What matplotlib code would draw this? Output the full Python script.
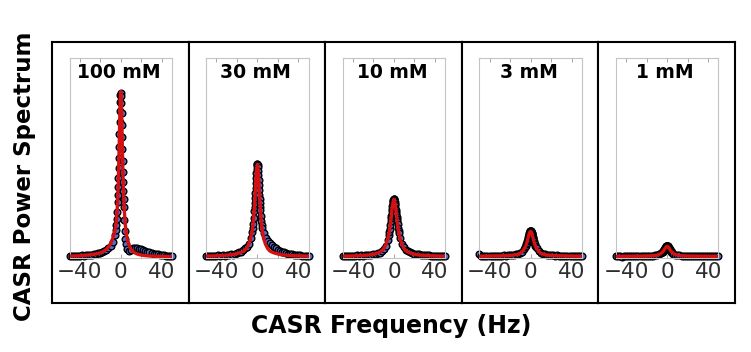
import matplotlib
matplotlib.use("Agg")
import matplotlib.pyplot as plt
from matplotlib.ticker import FixedLocator

# ---- data (power in arbitrary units, 0-100 axis) ----
labels = ["100 mM", "30 mM", "10 mM", "3 mM", "1 mM"]

freqs = [-50, -48, -46, -44, -42, -40, -38, -36, -34, -32, -30, -28, -26, -24,
         -22, -20, -18, -16, -14, -12, -10, -8, -6,
         -5, -4.5, -4, -3.5, -3, -2.75, -2.5, -2.25, -2, -1.75, -1.5, -1.25,
         -1, -0.75, -0.5, -0.25, 0, 0.25, 0.5, 0.75, 1, 1.25, 1.5, 1.75, 2,
         2.25, 2.5, 2.75, 3, 3.5, 4, 4.5, 5,
         6, 8, 10, 12, 14, 16, 18, 20, 22, 24, 26, 28, 30, 32, 34, 36, 38,
         40, 42, 44, 46, 48, 50]

# measured spectra (dots)
pts_100 = [0.8, 1.0, 0.9, 1.1, 1.0, 1.2, 1.3, 1.2, 1.5, 1.4, 1.7, 1.6, 2.0, 2.0,
           2.4, 2.5, 3.1, 3.4, 4.2, 5.0, 6.2, 8.0, 11.5,
           14.0, 16.5, 19.5, 23.0, 28.0, 31.5, 35.5, 40.0, 45.0, 50.0, 55.5, 62.0,
           68.0, 73.5, 78.0, 81.5, 82.5, 81.0, 77.5, 72.5, 66.5, 60.5, 54.5, 48.5,
           43.0, 38.0, 33.5, 29.5, 25.5, 19.0, 13.5, 9.5, 7.0,
           4.5, 3.5, 4.0, 4.8, 5.2, 5.0, 4.7, 4.3, 3.9, 3.5, 3.1, 2.8, 2.5, 2.2,
           2.0, 1.8, 1.6, 1.4, 1.3, 1.2, 1.1, 1.0, 0.9]
pts_30 = [0.9, 1.1, 0.9, 1.0, 1.2, 1.0, 1.3, 1.1, 1.4, 1.2, 1.6, 1.4, 1.8, 1.7,
          2.2, 2.4, 2.9, 3.2, 4.2, 4.8, 5.6, 7.0, 10.0,
          13.0, 15.0, 17.0, 20.0, 23.5, 25.5, 27.5, 30.0, 32.5, 35.0, 37.5, 40.0,
          42.5, 44.5, 46.0, 47.0, 47.0, 46.5, 45.5, 43.5, 41.5, 39.0, 36.5, 34.0,
          31.5, 29.5, 27.5, 25.5, 24.0, 21.0, 18.5, 16.5, 15.0,
          12.5, 10.0, 8.5, 7.5, 6.5, 5.5, 4.8, 4.2, 3.6, 3.2, 2.8, 2.5, 2.2, 2.0,
          1.8, 1.6, 1.5, 1.4, 1.3, 1.2, 1.1, 1.0, 1.0]
pts_10 = [1.2, 0.9, 1.0, 1.1, 0.9, 1.2, 1.0, 1.3, 1.1, 1.4, 1.2, 1.5, 1.4, 1.7,
          1.6, 2.0, 2.0, 2.6, 2.7, 3.6, 4.4, 6.2, 9.0,
          11.5, 13.0, 14.5, 16.5, 18.5, 19.8, 21.0, 22.2, 23.5, 24.6, 25.8, 26.9,
          27.8, 28.6, 29.2, 29.6, 29.6, 29.3, 28.8, 28.0, 27.2, 26.3, 25.2, 24.1,
          23.0, 21.8, 20.6, 19.6, 18.6, 16.8, 15.1, 13.6, 12.3,
          10.2, 7.2, 5.3, 4.0, 3.4, 2.8, 2.5, 2.2, 1.9, 1.8, 1.6, 1.5, 1.4, 1.4,
          1.3, 1.2, 1.2, 1.1, 1.1, 1.0, 1.0, 1.0, 0.9]
pts_3 = [2.0, 1.0, 0.8, 1.1, 0.9, 1.1, 0.9, 1.2, 1.0, 1.1, 1.2, 1.0, 1.3, 1.2,
         1.3, 1.4, 1.3, 1.6, 1.8, 1.9, 2.5, 3.1, 4.4,
         5.4, 6.0, 6.8, 7.6, 8.6, 9.1, 9.7, 10.3, 10.9, 11.4, 12.0, 12.5,
         12.9, 13.3, 13.5, 13.7, 13.7, 13.6, 13.4, 13.1, 12.7, 12.3, 11.8, 11.3,
         10.7, 10.2, 9.7, 9.1, 8.6, 7.6, 6.8, 6.1, 5.6,
         4.8, 3.5, 2.6, 2.1, 1.8, 1.7, 1.5, 1.4, 1.4, 1.2, 1.3, 1.1, 1.2, 1.0,
         1.1, 1.0, 1.1, 0.9, 1.0, 0.9, 1.0, 0.9, 1.2]
pts_1 = [1.0, 0.8, 0.9, 0.7, 0.9, 0.8, 1.0, 0.8, 0.9, 1.0, 0.8, 1.0, 0.9, 1.1,
         0.9, 1.1, 1.0, 1.2, 1.1, 1.3, 1.5, 1.9, 2.4,
         2.9, 3.2, 3.5, 3.8, 4.2, 4.4, 4.6, 4.8, 5.0, 5.2, 5.4, 5.6,
         5.8, 5.9, 6.0, 6.1, 6.1, 6.0, 5.9, 5.8, 5.6, 5.4, 5.2, 5.0,
         4.8, 4.6, 4.4, 4.2, 4.0, 3.6, 3.2, 2.9, 2.6,
         2.2, 1.7, 1.4, 1.3, 1.2, 1.1, 1.1, 1.2, 1.0, 0.9, 1.0, 1.1, 0.9, 1.0,
         0.9, 0.8, 0.9, 0.8, 0.9, 0.8, 0.8, 0.9, 1.0]

# fitted curves (red)
fit_100 = [0.9, 0.95, 1.0, 1.05, 1.1, 1.15, 1.2, 1.3, 1.4, 1.5, 1.6, 1.75, 1.9,
           2.1, 2.3, 2.6, 3.0, 3.6, 4.4, 5.5, 7.0, 9.5, 13.0,
           15.5, 17.5, 20.0, 23.8, 29.2, 32.5, 36.3, 40.7, 45.5, 50.9, 56.8, 62.8,
           68.9, 74.5, 79.0, 82.0, 83.2, 82.0, 79.0, 74.5, 68.9, 62.8, 56.8, 50.9,
           45.5, 40.7, 36.3, 32.5, 29.2, 23.7, 19.6, 16.3, 13.8,
           10.2, 6.3, 4.3, 3.2, 2.5, 2.0, 1.7, 1.5, 1.3, 1.2, 1.1, 1.0, 0.95, 0.9,
           0.85, 0.8, 0.8, 0.75, 0.75, 0.7, 0.7, 0.7, 0.65]
fit_30 = [0.95, 1.0, 1.0, 1.05, 1.05, 1.1, 1.15, 1.2, 1.25, 1.3, 1.4, 1.5, 1.6,
          1.75, 1.9, 2.2, 2.5, 2.8, 3.3, 4.0, 5.3, 7.4, 10.8,
          13.8, 15.4, 17.8, 20.7, 24.3, 26.2, 28.2, 30.4, 32.8, 35.2, 37.6, 40.0,
          42.2, 44.1, 45.6, 46.5, 46.8, 46.5, 45.6, 44.1, 42.2, 40.0, 37.6, 35.1,
          32.7, 30.2, 28.0, 25.8, 23.8, 20.3, 17.4, 15.0, 13.0,
          10.0, 6.8, 4.8, 3.6, 3.0, 2.6, 2.3, 2.0, 1.8, 1.6, 1.5, 1.4, 1.3, 1.25,
          1.2, 1.15, 1.1, 1.05, 1.0, 1.0, 0.95, 0.95, 0.9]
fit_10 = [0.9, 0.95, 0.95, 1.0, 1.0, 1.05, 1.1, 1.15, 1.2, 1.25, 1.3, 1.35, 1.45,
          1.55, 1.7, 1.9, 2.1, 2.5, 2.9, 3.5, 4.6, 6.5, 9.6,
          11.9, 13.4, 15.0, 16.9, 19.0, 20.1, 21.3, 22.4, 23.6, 24.7, 25.8, 26.8,
          27.6, 28.3, 28.9, 29.2, 29.3, 29.2, 28.9, 28.3, 27.6, 26.8, 25.8, 24.7,
          23.6, 22.4, 21.3, 20.1, 19.0, 16.9, 15.0, 13.4, 11.9,
          9.6, 6.5, 4.6, 3.5, 2.9, 2.5, 2.1, 1.9, 1.7, 1.55, 1.45, 1.35, 1.3, 1.25,
          1.2, 1.15, 1.1, 1.05, 1.0, 1.0, 0.95, 0.95, 0.9]
fit_3 = [0.9, 0.9, 0.9, 0.95, 0.95, 1.0, 1.0, 1.0, 1.05, 1.05, 1.1, 1.1, 1.15,
         1.2, 1.25, 1.3, 1.4, 1.5, 1.7, 2.0, 2.4, 3.3, 4.7,
         5.7, 6.3, 7.1, 7.9, 8.8, 9.3, 9.8, 10.3, 10.8, 11.3, 11.8, 12.2,
         12.6, 12.9, 13.1, 13.25, 13.3, 13.25, 13.1, 12.9, 12.6, 12.2, 11.8, 11.3,
         10.8, 10.3, 9.8, 9.3, 8.8, 7.9, 7.1, 6.3, 5.7,
         4.7, 3.3, 2.4, 2.0, 1.7, 1.5, 1.4, 1.3, 1.25, 1.2, 1.15, 1.1, 1.1, 1.05,
         1.05, 1.0, 1.0, 1.0, 0.95, 0.95, 0.9, 0.9, 0.9]
fit_1 = [0.8, 0.8, 0.8, 0.8, 0.85, 0.85, 0.85, 0.85, 0.9, 0.9, 0.9, 0.9, 0.95,
         0.95, 0.95, 1.0, 1.0, 1.1, 1.15, 1.25, 1.4, 1.8, 2.35,
         2.75, 3.0, 3.3, 3.6, 4.0, 4.2, 4.4, 4.6, 4.8, 5.0, 5.2, 5.35,
         5.5, 5.6, 5.7, 5.8, 5.8, 5.8, 5.7, 5.6, 5.5, 5.35, 5.2, 5.0,
         4.8, 4.6, 4.4, 4.2, 4.0, 3.6, 3.3, 3.0, 2.75,
         2.35, 1.8, 1.4, 1.25, 1.15, 1.1, 1.0, 1.0, 0.95, 0.95, 0.95, 0.9, 0.9,
         0.9, 0.9, 0.85, 0.85, 0.85, 0.85, 0.8, 0.8, 0.8, 0.8]

all_pts = [pts_100, pts_30, pts_10, pts_3, pts_1]
all_fits = [fit_100, fit_30, fit_10, fit_3, fit_1]

tick_vals = [-40, 0, 40]
minor_vals = [-20, 20]

# ---- layout in pixels ----
W, H = 751, 352
box_x0, box_w = 52, 136.6
box_top, box_bot = 42, 303
in_off, in_w = 17.5, 102.5
in_top, in_bot = 58, 258

fig = plt.figure(figsize=(W / 100, H / 100), dpi=100)

for i in range(5):
    bx = box_x0 + i * box_w

    # black frame around each panel
    frame = fig.add_axes([bx / W, 1 - box_bot / H, box_w / W,
                          (box_bot - box_top) / H])
    frame.set_xticks([])
    frame.set_yticks([])
    for sp in frame.spines.values():
        sp.set_linewidth(1.5)
        sp.set_color("black")

    ax = fig.add_axes([(bx + in_off) / W, 1 - in_bot / H, in_w / W,
                       (in_bot - in_top) / H])
    ax.plot(freqs, all_pts[i], linestyle="none", marker="o", markersize=4.8,
            markerfacecolor="#4f70d0", markeredgecolor="black",
            markeredgewidth=1.0, zorder=2, clip_on=False)
    ax.plot(freqs, all_fits[i], color="#d41010", linewidth=2.4, zorder=3)

    ax.set_xlim(-50, 50)
    ax.set_ylim(0, 100)
    ax.set_yticks([])
    ax.xaxis.set_major_locator(FixedLocator(tick_vals))
    ax.xaxis.set_minor_locator(FixedLocator(minor_vals))
    ax.set_xticklabels([str(t).replace("-", "\u2212") for t in tick_vals])
    ax.tick_params(axis="x", which="both", direction="in", top=True,
                   length=3, width=0.6, color="#999999")
    ax.tick_params(axis="x", which="major", labelsize=15.5,
                   labelcolor="#2e2e2e", pad=3)
    for sp in ax.spines.values():
        sp.set_color("#c4c4c4")
        sp.set_linewidth(0.8)

    ax.text(0.48, 0.925, labels[i], transform=ax.transAxes, ha="center",
            va="center", fontsize=13.5, fontweight="bold")

fig.text(25 / W, 1 - 176 / H, "CASR Power Spectrum", rotation=90,
         ha="center", va="center", fontsize=16.5, fontweight="bold")
fig.text(391 / W, 1 - 326 / H, "CASR Frequency (Hz)", ha="center",
         va="center", fontsize=17, fontweight="bold")

fig.savefig("out.png", dpi=100)
